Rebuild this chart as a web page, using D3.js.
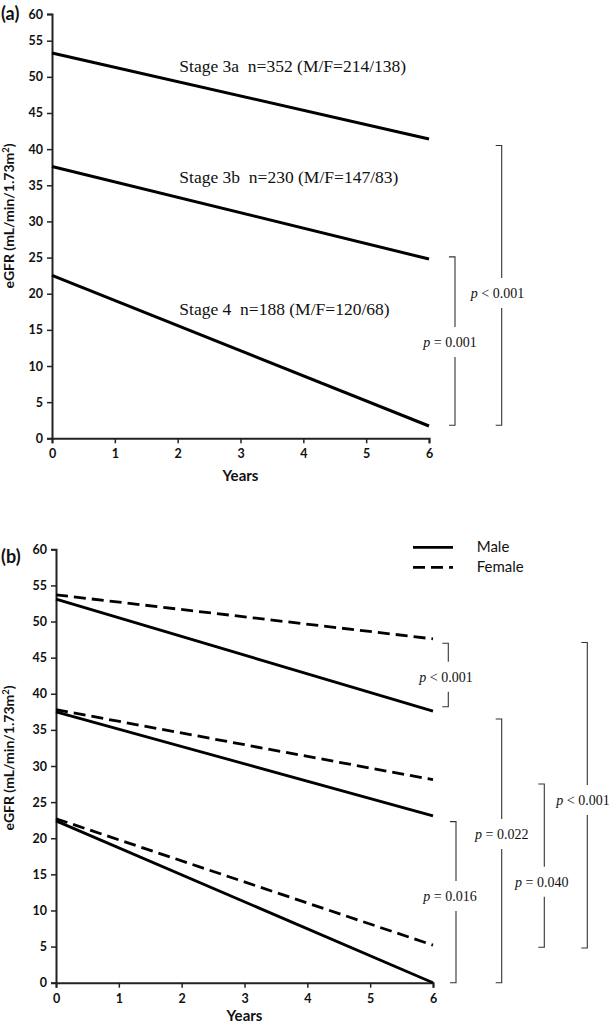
<!DOCTYPE html>
<html>
<head>
<meta charset="utf-8">
<script src="https://cdn.jsdelivr.net/npm/d3@7"></script>
<style>
  html, body { margin: 0; padding: 0; background: #fff; }
  svg { display: block; }
  .tick text { font-family: Lato, "Open Sans", sans-serif; font-weight: bold; font-size: 12.5px; fill: #111; }
</style>
</head>
<body>
<svg id="chart" width="609" height="1024"></svg>
<script>
// ---------- data ----------
const years = [0, 6];
const xTicks = [0, 1, 2, 3, 4, 5, 6];
const yTicks = [0, 5, 10, 15, 20, 25, 30, 35, 40, 45, 50, 55, 60];

// Panel (a): eGFR at year 0 and year 6 by CKD stage
const stageNames = ["Stage 3a  n=352 (M/F=214/138)", "Stage 3b  n=230 (M/F=147/83)", "Stage 4  n=188 (M/F=120/68)"];
const stageValues = [[53.3, 41.4], [37.6, 24.8], [22.55, 1.7]];

// Panel (b): by sex within stage
const sexNames = ["Male", "Female"];
const maleValues = [[53.1, 37.6], [37.5, 23.1], [22.4, 0.0]];
const femaleValues = [[53.7, 47.6], [37.8, 28.1], [22.7, 5.2]];

// p-value brackets: [top value, bottom value, label]
const bracketsA = [[25.1, 1.8, "= 0.001"], [40.5, 1.8, "< 0.001"]];
const bracketsB = [[47.0, 38.2, "< 0.001"], [36.5, 0.0, "= 0.022"], [22.3, 0.0, "= 0.016"], [27.5, 4.9, "= 0.040"], [47.1, 4.8, "< 0.001"]];

// ---------- layout ----------
const svg = d3.select("#chart");
const xA = d3.scaleLinear().domain([0, 6]).range([52, 429]);
const yA = d3.scaleLinear().domain([0, 55, 60]).range([438.3, 40.7, 14]);
const xB = d3.scaleLinear().domain([0, 6]).range([56, 433]);
const yB = d3.scaleLinear().domain([0, 60]).range([982.7, 549.3]);

const stageLabelPos = [[179.3, 71.7], [179.3, 183.3], [179.3, 315]];
const bracketLayoutA = [{x: 455, lx: 450, ly: 342}, {x: 501.7, lx: 497.5, ly: 293}];
const bracketLayoutB = [{x: 448.3, lx: 446, ly: 676.7}, {x: 501.7, lx: 501.7, ly: 834},
                        {x: 456, lx: 450, ly: 896}, {x: 544.3, lx: 541.7, ly: 881.7},
                        {x: 587.3, lx: 583, ly: 800}];

function drawAxes(x, y, yLabelX, yLabelY, yearsY, tag, tagY) {
  const gx = svg.append("g").attr("transform", `translate(0,${y(0)})`)
    .call(d3.axisBottom(x).tickValues(xTicks).tickSize(5).tickPadding(6).tickFormat(d3.format("d")));
  const gy = svg.append("g").attr("transform", `translate(${x(0)},0)`)
    .call(d3.axisLeft(y).tickValues(yTicks).tickSize(5).tickPadding(4).tickFormat(d3.format("d")));
  [gx, gy].forEach(g => {
    g.select(".domain").attr("stroke", "#222").attr("stroke-width", 2);
    g.selectAll(".tick line").attr("stroke", "#222").attr("stroke-width", 1.5);
  });
  svg.append("text").attr("x", x(3)).attr("y", yearsY).attr("text-anchor", "middle")
    .attr("font-family", "Lato, sans-serif").attr("font-weight", "bold").attr("font-size", 15)
    .attr("fill", "#111").text("Years");
  const t = svg.append("text").attr("transform", `translate(${yLabelX},${yLabelY}) rotate(-90)`)
    .attr("text-anchor", "middle").attr("font-family", "Lato, sans-serif")
    .attr("font-weight", "bold").attr("font-size", 14).attr("fill", "#111");
  t.append("tspan").text("eGFR (mL/min/1.73m");
  t.append("tspan").attr("font-size", 9.5).attr("dy", -5).text("2");
  t.append("tspan").attr("dy", 5).text(")");
  svg.append("text").attr("x", 1).attr("y", tagY).attr("font-family", "Lato, sans-serif")
    .attr("font-weight", "bold").attr("font-size", 18).attr("fill", "#111").text(tag);
}

function drawBrackets(data, layout, y) {
  data.forEach((b, i) => {
    const L = layout[i];
    const top = y(b[0]), bot = y(b[1]);
    const g = svg.append("g").attr("stroke", "#333").attr("stroke-width", 1.1).attr("fill", "none");
    g.append("path").attr("d", `M${L.x - 6},${top}H${L.x}V${L.ly - 15}`);
    g.append("path").attr("d", `M${L.x},${L.ly + 15}V${bot}H${L.x - 6}`);
    const t = svg.append("text").attr("x", L.lx).attr("y", L.ly + 5).attr("text-anchor", "middle")
      .attr("font-family", "'Liberation Serif', 'Times New Roman', serif").attr("font-size", 14)
      .attr("fill", "#111");
    t.append("tspan").attr("font-style", "italic").text("p");
    t.append("tspan").text(" " + b[2]);
  });
}

// ---------- panel (a) ----------
drawAxes(xA, yA, 14, 216, 481, "(a)", 20);
const lineA = d3.line().x((d, i) => xA(years[i])).y(d => yA(d));
svg.append("g").selectAll("path").data(stageValues).join("path")
  .attr("d", lineA).attr("fill", "none").attr("stroke", "#000").attr("stroke-width", 3);
svg.append("g").selectAll("text").data(stageNames).join("text")
  .attr("x", (d, i) => stageLabelPos[i][0]).attr("y", (d, i) => stageLabelPos[i][1])
  .attr("font-family", "'Liberation Serif', 'Times New Roman', serif").attr("font-size", 17.5)
  .attr("fill", "#111").style("white-space", "pre").text(d => d);
drawBrackets(bracketsA, bracketLayoutA, yA);

// ---------- panel (b) ----------
drawAxes(xB, yB, 14, 758, 1021, "(b)", 563);
const lineB = d3.line().x((d, i) => xB(years[i])).y(d => yB(d));
svg.append("g").selectAll("path").data(maleValues).join("path")
  .attr("d", lineB).attr("fill", "none").attr("stroke", "#000").attr("stroke-width", 2.8);
svg.append("g").selectAll("path").data(femaleValues).join("path")
  .attr("d", lineB).attr("fill", "none").attr("stroke", "#000").attr("stroke-width", 2.8)
  .attr("stroke-dasharray", "12,6");
drawBrackets(bracketsB, bracketLayoutB, yB);

// legend
const legY = [547.3, 567.3];
const leg = svg.append("g").selectAll("g").data(sexNames).join("g");
leg.append("line").attr("x1", 413).attr("x2", 453).attr("y1", (d, i) => legY[i]).attr("y2", (d, i) => legY[i])
  .attr("stroke", "#000").attr("stroke-width", 2.8)
  .attr("stroke-dasharray", (d, i) => i === 1 ? "12,6" : null);
leg.append("text").attr("x", 476.7).attr("y", (d, i) => legY[i] + 5)
  .attr("font-family", "Lato, sans-serif").attr("font-size", 15).attr("fill", "#111").text(d => d);
</script>
</body>
</html>
